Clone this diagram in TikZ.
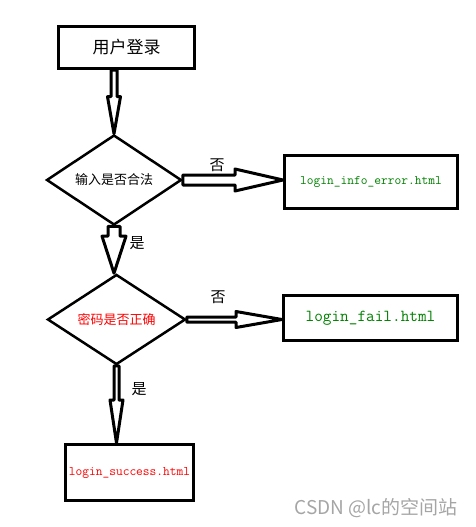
\documentclass[tikz,border=0pt]{standalone}
\usepackage{fontspec}
\setmainfont{Noto Sans CJK SC}
\usepackage{tikz}
\usetikzlibrary{shapes,positioning,calc}

\definecolor{pagegreen}{RGB}{0,128,0}
\definecolor{pagered}{RGB}{255,0,0}
\definecolor{markgray}{RGB}{165,165,165}

% hollow block arrows: start, tip, shaft half width, head half width, head length
\newcommand{\downblock}[5]{%
  \draw[hollow] ($(#1)+(-#3,0)$) -- ($(#2)+(-#3,-#5)$) -- ($(#2)+(-#4,-#5)$) -- (#2)
    -- ($(#2)+(#4,-#5)$) -- ($(#2)+(#3,-#5)$) -- ($(#1)+(#3,0)$) -- cycle;}
\newcommand{\rightblock}[5]{%
  \draw[hollow] ($(#1)+(0,-#3)$) -- ($(#2)+(-#5,-#3)$) -- ($(#2)+(-#5,-#4)$) -- (#2)
    -- ($(#2)+(-#5,#4)$) -- ($(#2)+(-#5,#3)$) -- ($(#1)+(0,#3)$) -- cycle;}

\begin{document}
\begin{tikzpicture}[
		x=1pt, y=-1pt,
		box/.style={
		  draw,
		  rectangle,
		  line width=3pt,
		  inner sep=0pt
		  },
		decision/.style={
		  draw,
		  diamond,
		  line width=2.5pt,
		  inner sep=0pt,
		  font=\fontsize{13}{15}\selectfont
		  },
		page/.style={
		  font=\ttfamily\fontsize{13.1}{15}\selectfont
		  },
		hollow/.style={
		  draw,
		  line width=3pt,
		  line join=round
		  },
		answer/.style={
		  font=\fontsize{15}{17}\selectfont
		  }
		]
		\useasboundingbox (0,0) rectangle (475,527);
		% boxes and decisions
		\node[box, minimum width=136pt, minimum height=42pt, font=\fontsize{17}{20}\selectfont] (login) at (126.5,47.5) {用户登录};
		\node[decision, minimum width=135pt, minimum height=63pt] (check1) at (114,180) {输入是否合法};
		\node[box, page, text=pagegreen, minimum width=173pt, minimum height=53pt] (info) at (371,182) {login\_info\_error.html};
		\node[decision, text=pagered, minimum width=138pt, minimum height=66pt] (check2) at (116.5,319.5) {密码是否正确};
		\node[box, page, text=pagegreen, minimum width=174pt, minimum height=45pt, font=\ttfamily\fontsize{16.8}{19}\selectfont] (fail) at (370.5,318) {login\_fail.html};
		\node[box, page, text=pagered, minimum width=128pt, minimum height=56pt] (success) at (129.5,472.5) {login\_success.html};
		% arrows
		\downblock{check1.north |- login.south}{check1.north}{3}{6.5}{37}
		\downblock{check1.south}{check1.south |- check2.north}{6}{12}{37}
		\downblock{check2.south}{check2.south |- success.north}{2.5}{6.5}{43}
		\rightblock{check1.east}{check1.east -| info.west}{5}{11}{48}
		\rightblock{check2.east}{check2.east -| fail.west}{2.5}{8}{46}
		% labels
		\node[answer] (no1) at (217,165) {否};
		\node[answer] (yes1) at (137,243) {是};
		\node[answer] (no2) at (218,297) {否};
		\node[answer] (yes2) at (139,389) {是};
		\node[text=markgray, font=\fontsize{19}{21}\selectfont] (mark) at (376,508) {CSDN @lc的空间站};
	\end{tikzpicture}
\end{document}
